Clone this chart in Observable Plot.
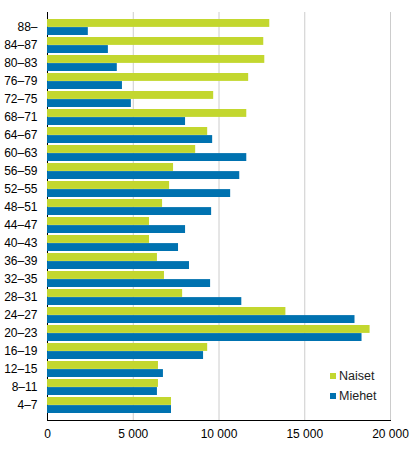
<!DOCTYPE html>
<html>
<head>
<meta charset="utf-8">
<script src="https://cdn.jsdelivr.net/npm/d3@7"></script>
<script src="https://cdn.jsdelivr.net/npm/@observablehq/plot@0.6"></script>
<style>
  body { margin: 0; background: white; font-family: Arial, "Liberation Sans", sans-serif; }
  #chart { position: relative; width: 416px; height: 455px; }
  .legend { position: absolute; left: 330px; top: 366px; font-size: 12.5px; color: #222; }
  .legend div { display: flex; align-items: center; height: 20px; }
  .legend span.sw { width: 6px; height: 6px; margin-right: 3px; display: inline-block; }
</style>
</head>
<body>
<div id="chart"></div>
<script>
// ikäryhmät ylhäältä alas
const ages = ["88–","84–87","80–83","76–79","72–75","68–71","64–67","60–63","56–59","52–55","48–51",
  "44–47","40–43","36–39","32–35","28–31","24–27","20–23","16–19","12–15","8–11","4–7"];
const naiset = [12960, 12610, 12670, 11730, 9690, 11620, 9340, 8640, 7350, 7120, 6710,
  5950, 5950, 6410, 6820, 7880, 13900, 18810, 9340, 6470, 6470, 7230];
const miehet = [2380, 3550, 4070, 4370, 4890, 8050, 9630, 11620, 11210, 10680, 9570,
  8050, 7640, 8280, 9510, 11330, 17930, 18340, 9100, 6760, 6410, 7230];
const xTicks = [0, 5000, 10000, 15000, 20000];
const series = ["Naiset", "Miehet"];
const colors = ["#c3d72f", "#0072b0"];

const data = ages.map((a, i) => ({age: a, naiset: naiset[i], miehet: miehet[i]}));
const fmt = d => d3.format(",")(d).replace(/,/g, " ");
const half = 8.1;

let chart = Plot.plot({
  width: 416,
  height: 455,
  marginTop: 12,
  marginBottom: 35,
  marginLeft: 47,
  marginRight: 26,
  style: {
    fontFamily: "Arial, 'Liberation Sans', sans-serif",
    fontSize: "12px",
    color: "black",
    background: "white"
  },
  x: {
    domain: [0, 20000],
    ticks: xTicks,
    tickFormat: fmt,
    tickSize: 0,
    tickPadding: 9,
    label: null,
    line: true
  },
  y: {
    domain: ages,
    paddingInner: 0.13,
    paddingOuter: 0,
    tickSize: 0,
    tickPadding: 10,
    label: null,
    line: true
  },
  marks: [
    Plot.ruleX(xTicks.slice(1), {stroke: "#cccccc", strokeWidth: 1}),
    Plot.barX(data, {x: "naiset", y: "age", fill: colors[0], insetBottom: half}),
    Plot.barX(data, {x: "miehet", y: "age", fill: colors[1], insetTop: half})
  ]
});

const el = document.getElementById("chart");
el.append(chart);

const legend = document.createElement("div");
legend.className = "legend";
series.forEach((s, i) => {
  const row = document.createElement("div");
  row.innerHTML = `<span class="sw" style="background:${colors[i]}"></span>${s}`;
  legend.append(row);
});
el.append(legend);
</script>
</body>
</html>
